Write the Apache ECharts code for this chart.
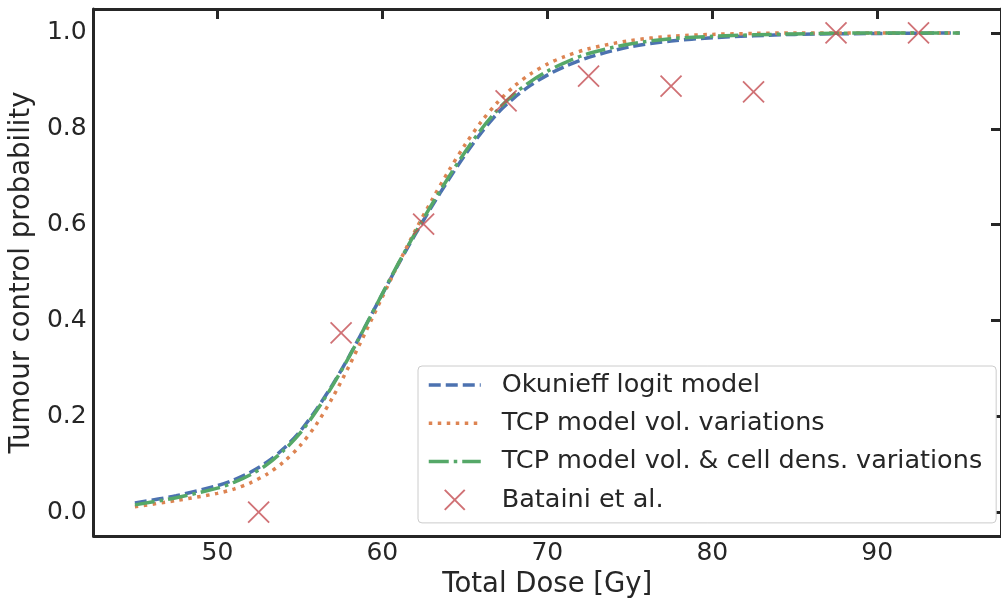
<!DOCTYPE html>
<html>
<head>
<meta charset="utf-8">
<script src="https://cdn.jsdelivr.net/npm/echarts@6/dist/echarts.min.js"></script>
<style>
  html, body { margin: 0; padding: 0; background: #fff; }
  #chart { width: 1001px; height: 606px; }
</style>
</head>
<body>
<div id="chart"></div>
<script>
// dose grid for the model curves (Gy)
const doses = [45, 47.5, 50, 51, 52, 53, 54, 55, 56, 57, 58, 59, 60, 61, 62, 63, 64, 65, 66, 67, 68, 69, 70, 71, 72.5, 75, 77.5, 80, 82.5, 85, 90, 95]

const okunieff = [0.019, 0.034, 0.055, 0.067, 0.083, 0.104, 0.132, 0.168, 0.214, 0.267, 0.326, 0.390, 0.455, 0.519, 0.580, 0.638, 0.693, 0.745, 0.792, 0.833, 0.865, 0.891, 0.912, 0.929, 0.949, 0.971, 0.983, 0.990, 0.994, 0.997, 0.999, 1.0]
const tcpVol = [0.011, 0.024, 0.039, 0.048, 0.061, 0.079, 0.104, 0.138, 0.183, 0.240, 0.306, 0.377, 0.449, 0.520, 0.588, 0.651, 0.711, 0.766, 0.815, 0.856, 0.889, 0.915, 0.935, 0.950, 0.967, 0.984, 0.993, 0.997, 0.999, 1.0, 1.0, 1.0]
const tcpVolCell = [0.015, 0.030, 0.050, 0.062, 0.078, 0.099, 0.128, 0.164, 0.211, 0.265, 0.325, 0.390, 0.456, 0.521, 0.583, 0.642, 0.698, 0.751, 0.799, 0.840, 0.873, 0.899, 0.920, 0.937, 0.957, 0.977, 0.988, 0.993, 0.996, 0.998, 1.0, 1.0]

// Bataini et al. clinical data
const batainiDose = [52.5, 57.5, 62.5, 67.5, 72.5, 77.5, 82.5, 87.5, 92.5]
const batainiTcp = [0.0, 0.374, 0.601, 0.858, 0.910, 0.889, 0.877, 1.0, 1.0]

const xTicks = [50, 60, 70, 80, 90]
const yTicks = [0, 0.2, 0.4, 0.6, 0.8, 1.0]

const ink = '#262626'
const font = 'DejaVu Sans'

const pairs = (xs, ys) => xs.map((x, i) => [x, ys[i]])

const chart = echarts.init(document.getElementById('chart'))

const lineSeries = (name, values, color, dash) => ({
  name: name,
  type: 'line',
  data: pairs(doses, values),
  smooth: 0.3,
  showSymbol: false,
  symbol: 'none',
  xAxisIndex: 0,
  yAxisIndex: 0,
  lineStyle: { width: 3.5, color: color, type: dash, cap: 'butt' },
  itemStyle: { color: color },
  emphasis: { disabled: true }
})

// legend entries for the curves: line only, no round marker
const lineEntry = name => ({ name: name, itemStyle: { opacity: 0 } })

const option = {
  animation: false,
  backgroundColor: '#fff',
  textStyle: { fontFamily: font },
  grid: { left: 92, top: 9, right: -3, bottom: 70, containLabel: false },
  legend: {
    orient: 'vertical',
    left: 418,
    top: 366,
    padding: [5, 14, 9, 9],
    itemWidth: 52,
    itemHeight: 20,
    itemGap: 10.3,
    backgroundColor: '#fff',
    borderColor: '#cccccc',
    borderWidth: 1,
    borderRadius: 4,
    lineStyle: { width: 3.5 },
    textStyle: { fontFamily: font, fontSize: 25.5, lineHeight: 28, color: ink, padding: [0, 0, 0, 16] },
    data: [
      lineEntry('Okunieff logit model'),
      lineEntry('TCP model vol. variations'),
      lineEntry('TCP model vol. & cell dens. variations'),
      { name: 'Bataini et al.' }
    ]
  },
  xAxis: [
    {
      type: 'value',
      position: 'bottom',
      min: 42.5,
      max: 97.5,
      name: 'Total Dose [Gy]',
      nameLocation: 'middle',
      nameGap: 34,
      nameTextStyle: { fontFamily: font, fontSize: 27.5, color: ink },
      axisLine: { show: true, onZero: false, lineStyle: { color: ink, width: 3 } },
      axisTick: { show: false },
      splitLine: { show: false },
      axisLabel: {
        customValues: xTicks,
        fontFamily: font,
        fontSize: 25,
        color: ink,
        margin: 5
      }
    },
    {
      type: 'value',
      position: 'top',
      min: 42.5,
      max: 97.5,
      axisLine: { show: true, onZero: false, lineStyle: { color: ink, width: 3 } },
      axisTick: { show: true, inside: true, length: 10, customValues: xTicks, lineStyle: { color: ink, width: 3 } },
      axisLabel: { show: false },
      splitLine: { show: false }
    }
  ],
  yAxis: [
    {
      type: 'value',
      position: 'left',
      min: -0.05,
      max: 1.05,
      name: 'Tumour control probability',
      nameLocation: 'middle',
      nameGap: 57,
      nameTextStyle: { fontFamily: font, fontSize: 27.5, color: ink },
      axisLine: { show: true, onZero: false, lineStyle: { color: ink, width: 3 } },
      axisTick: { show: false },
      splitLine: { show: false },
      axisLabel: {
        customValues: yTicks,
        formatter: v => v.toFixed(1),
        fontFamily: font,
        fontSize: 25,
        color: ink,
        margin: 7
      }
    },
    {
      type: 'value',
      position: 'right',
      min: -0.05,
      max: 1.05,
      axisLine: { show: true, onZero: false, lineStyle: { color: ink, width: 3 } },
      axisTick: { show: true, inside: true, length: 10, customValues: yTicks, lineStyle: { color: ink, width: 3 } },
      axisLabel: { show: false },
      splitLine: { show: false }
    }
  ],
  series: [
    lineSeries('Okunieff logit model', okunieff, '#4C72B0', [12, 5]),
    lineSeries('TCP model vol. variations', tcpVol, '#DD8452', [3.5, 5.5]),
    lineSeries('TCP model vol. & cell dens. variations', tcpVolCell, '#55A868', [20, 5, 3.5, 5]),
    {
      name: 'Bataini et al.',
      type: 'scatter',
      data: pairs(batainiDose, batainiTcp),
      symbol: 'path://M0,0L10,10M10,0L0,10',
      symbolSize: 21,
      xAxisIndex: 0,
      yAxisIndex: 0,
      itemStyle: { color: 'rgba(0,0,0,0)', borderColor: '#C44E52', borderWidth: 1.8 },
      emphasis: { disabled: true },
      z: 5
    }
  ]
}

chart.setOption(option)
</script>
</body>
</html>
